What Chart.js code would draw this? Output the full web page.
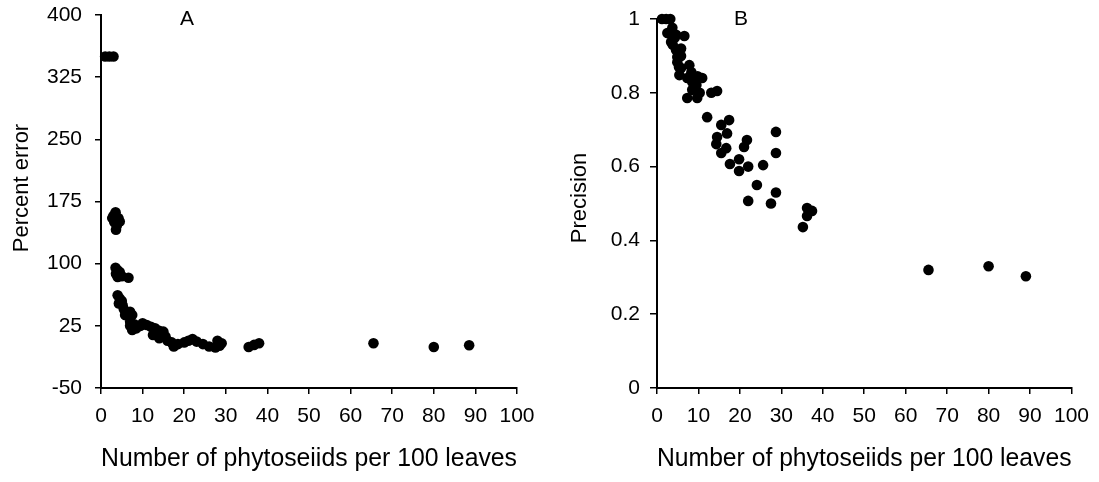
<!DOCTYPE html>
<html>
<head>
<meta charset="utf-8">
<script src="https://cdn.jsdelivr.net/npm/chart.js@4"></script>
<style>
html,body{margin:0;padding:0;background:#fff;}
#wrap{position:relative;width:1099px;height:482px;}
#c1{position:absolute;left:0;top:0;}
#c2{position:absolute;left:550px;top:0;}
</style>
</head>
<body>
<div id="wrap">
<div id="c1" style="width:550px;height:482px"><canvas id="cv1"></canvas></div>
<div id="c2" style="width:549px;height:482px"><canvas id="cv2"></canvas></div>
</div>
<script>
// ---- data ----
const xTicks = [0,10,20,30,40,50,60,70,80,90,100];
const errorTicks = [-50,25,100,175,250,325,400];
const precisionTicks = [0,0.2,0.4,0.6,0.8,1];
const xTitle = "Number of phytoseiids per 100 leaves";
const errorTitle = "Percent error";
const precisionTitle = "Precision";
const panelA = "A";
const panelB = "B";

const errorX = [1,2,3,
  3.5,2.7,3.2,4.5,3.8,3.6,4.2,3,
  3.5,4,3.6,4.5,4,5,6.6,
  4,4.5,5,4.3,5.2,
  5.5,6,7,7.5,5.8,
  7,7,8,8.5,7.5,9.5,
  10,11,12,13,14,15,12.5,14,15.5,16,17,17.5,18.5,20,21,22,23,24.5,26,27.5,28,29,28.5,
  35.5,36.8,38,65.5,80,88.5];
const errorY = [350,350,350,
  162,155,150,151,146,141,155,158,
  95,92,88,90,84,85,83,
  62,58,55,52,50,
  45,41,42,38,38,
  30,25,27,22,20,25,
  28,26,24,22,19,18,14,10,12,7,5,0,3,5,7,9,6,3,0,-1,7,4,1,
  -0.5,2,4,4,-0.5,1.5];

const precisionX = [1.2,2.2,3.2,
  2.5,3.7,4.6,6.6,3.4,4.6,4.9,4.9,7.8,5.8,5.4,8.3,7.3,10.9,8.5,9.5,8.5,7.3,9.7,13.1,14.5,
  12.1,15.5,17.4,14.5,16.9,21.7,14.3,16.7,15.5,21,28.7,28.7,19.8,17.6,22,19.8,25.6,24.1,28.7,22,27.5,
  36.2,37.4,36.2,35.2,65.5,80,89,
  3.8,5.8,5.8,5.3,4.3,10.3,9.8];
const precisionY = [1,1,1,
  0.962,0.976,0.957,0.954,0.938,0.916,0.897,0.883,0.875,0.867,0.848,0.856,0.84,0.84,0.829,0.821,0.808,0.786,0.786,0.8,0.805,
  0.734,0.713,0.726,0.68,0.69,0.672,0.661,0.65,0.637,0.653,0.694,0.637,0.62,0.607,0.6,0.588,0.604,0.55,0.53,0.507,0.5,
  0.488,0.48,0.466,0.436,0.32,0.33,0.303,
  0.93,0.92,0.9,0.87,0.95,0.8,0.845];

const FONT = "'Liberation Sans', Arial, sans-serif";

function pts(xs, ys){ return xs.map((x,i)=>({x:x,y:ys[i]})); }

function textsPlugin(cfg){
  return {
    id:'panelTexts',
    afterDraw(chart){
      const ctx = chart.ctx;
      ctx.save();
      ctx.fillStyle = "#000";
      ctx.textAlign = "center";
      ctx.textBaseline = "middle";
      ctx.font = "21px " + FONT;
      ctx.fillText(cfg.label, cfg.lx, cfg.ly);
      ctx.font = "22px " + FONT;
      ctx.translate(cfg.tx, cfg.ty);
      ctx.rotate(-Math.PI/2);
      ctx.fillText(cfg.yTitle, 0, 0);
      ctx.restore();
    }
  };
}

function makeChart(id, cfg){
  const yTickVals = cfg.yTicks;
  return new Chart(document.getElementById(id), {
    type:'scatter',
    data:{datasets:[{data:pts(cfg.xs, cfg.ys), backgroundColor:'#000', borderWidth:0, pointRadius:5.3, pointHoverRadius:5.3, clip:false}]},
    options:{
      responsive:true, maintainAspectRatio:false, animation:false,
      events:[],
      layout:{padding:cfg.padding},
      plugins:{legend:{display:false}, tooltip:{enabled:false}},
      scales:{
        x:{
          type:'linear', min:0, max:100,
          afterBuildTicks(s){ s.ticks = xTicks.map(v=>({value:v})); },
          afterFit(s){ s.height = 94; },
          grid:{drawOnChartArea:false, drawTicks:true, tickLength:6, color:'#000', lineWidth:1.5},
          border:{display:true, color:'#000', width:2},
          ticks:{color:'#000', font:{family:FONT, size:21}, padding:10, maxRotation:0, autoSkip:false},
          title:{display:true, text:xTitle, color:'#000', font:{family:FONT, size:25}, padding:{top:0, bottom:8}}
        },
        y:{
          type:'linear', min:cfg.yMin, max:cfg.yMax,
          afterBuildTicks(s){ s.ticks = yTickVals.map(v=>({value:v})); },
          afterFit(s){ s.width = cfg.yWidth; },
          grid:{drawOnChartArea:false, drawTicks:true, tickLength:cfg.tl, color:'#000', lineWidth:1.5},
          border:{display:true, color:'#000', width:2},
          ticks:{color:'#000', font:{family:FONT, size:21, lineHeight:0.2}, padding:cfg.tp, autoSkip:false, callback:(v)=>String(v)},
          title:{display:false}
        }
      }
    },
    plugins:[textsPlugin(cfg)]
  });
}

makeChart('cv1', {xs:errorX, ys:errorY, yTicks:errorTicks, yMin:-50, yMax:400,
  padding:{top:15, right:33, left:0, bottom:0}, yWidth:101, tl:6, tp:13,
  yTitle:errorTitle, tx:22, ty:188, label:panelA, lx:187, ly:19});
makeChart('cv2', {xs:precisionX, ys:precisionY, yTicks:precisionTicks, yMin:0, yMax:1,
  padding:{top:19, right:25, left:0, bottom:0}, yWidth:107, tl:7, tp:10,
  yTitle:precisionTitle, tx:30, ty:198, label:panelB, lx:191, ly:19});
</script>
</body>
</html>
